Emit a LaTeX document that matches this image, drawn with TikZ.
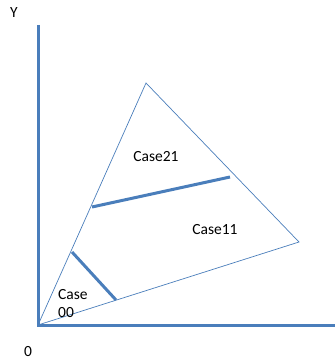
\documentclass[tikz,border=0pt]{standalone}
\usepackage{fontspec}
\setmainfont{Carlito}
\usetikzlibrary{positioning}
\definecolor{axisblue}{HTML}{4A7EBB}

\begin{document}
\begin{tikzpicture}[x=1pt, y=-1pt, every node/.style={font=\fontsize{15.5}{18}\selectfont, inner sep=0pt}]
    \useasboundingbox (0,0) rectangle (335,363);
    \coordinate (origin) at (38,325);
    \coordinate (ytop) at (38,25);
    \coordinate (xend) at (335,325);
    \coordinate (apex) at (146,83);
    \coordinate (corner) at (299,242);
    \coordinate (cutAl) at (92,207);
    \coordinate (cutAr) at (230,177);
    \coordinate (cutBl) at (72,252);
    \coordinate (cutBr) at (116,300);
    \draw[axisblue,line width=3pt] (ytop) -- (origin) -- (xend);
    \draw[axisblue,line width=0.7pt] (origin) -- (apex) -- (corner) -- cycle;
    \draw[axisblue,line width=3pt] (cutAl) -- (cutAr);
    \draw[axisblue,line width=3pt] (cutBl) -- (cutBr);
    \node (ylabel) at (14,13) {Y};
    \node (zero) at (28,352) {0};
    \node (case21) at (156,157) {Case21};
    \node (case11) at (215,230) {Case11};
    \node[anchor=west,align=left] (case00) at (58,304) {Case\\00};
  \end{tikzpicture}
\end{document}
